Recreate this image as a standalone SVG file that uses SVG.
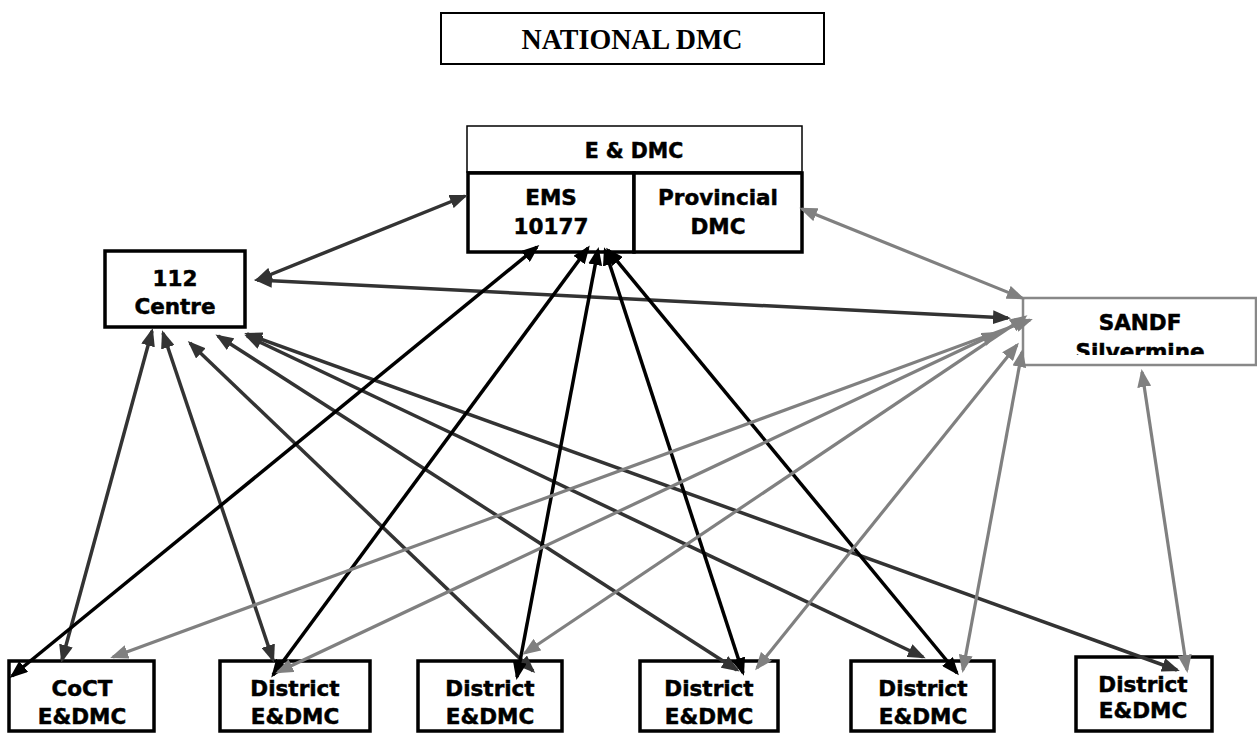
<svg xmlns="http://www.w3.org/2000/svg" width="1257" height="733" viewBox="0 0 1257 733">
<style>
.box{fill:#fff;stroke:#000;stroke-width:3.5}
.thin{fill:#fff;stroke:#000;stroke-width:1.5}
.gbox{fill:#fff;stroke:#888;stroke-width:2.5}
.t{font-family:"DejaVu Sans","Verdana",sans-serif;font-weight:bold;font-size:21.5px;fill:#000;stroke:#000;stroke-width:0.5;text-anchor:middle}
.nat{font-family:"Liberation Serif","Times New Roman",serif;font-weight:bold;font-size:28px;fill:#000;text-anchor:middle}
.k{stroke:#000;stroke-width:3.5;fill:none;marker-start:url(#ak);marker-end:url(#ak)}
.d{stroke:#333;stroke-width:3.5;fill:none;marker-start:url(#ad);marker-end:url(#ad)}
.g{stroke:#808080;stroke-width:3.2;fill:none;marker-start:url(#ag);marker-end:url(#ag)}
</style>
<defs>
<marker id="ak" markerUnits="userSpaceOnUse" markerWidth="18" markerHeight="14" viewBox="0 0 18 14" refX="15" refY="7" orient="auto-start-reverse"><path d="M0,0 L18,7 L0,14 z" fill="#000"/></marker>
<marker id="ad" markerUnits="userSpaceOnUse" markerWidth="18" markerHeight="14" viewBox="0 0 18 14" refX="15" refY="7" orient="auto-start-reverse"><path d="M0,0 L18,7 L0,14 z" fill="#333"/></marker>
<marker id="ag" markerUnits="userSpaceOnUse" markerWidth="18" markerHeight="14" viewBox="0 0 18 14" refX="15" refY="7" orient="auto-start-reverse"><path d="M0,0 L18,7 L0,14 z" fill="#808080"/></marker>
<clipPath id="sclip"><rect x="1024" y="299" width="233" height="56"/></clipPath>
</defs>

<g id="national">
<rect x="441" y="13" width="383" height="51" fill="#fff" stroke="#000" stroke-width="2"/>
<text class="nat" transform="translate(632,49) scale(1,1.08)">NATIONAL DMC</text>
</g>

<g id="edmc">
<rect class="thin" x="467" y="126" width="335" height="46"/>
<text class="t" x="634" y="158" style="font-size:20.5px">E &amp; DMC</text>
</g>

<g id="ems">
<rect class="box" x="468" y="173" width="166" height="79"/>
<text class="t" x="551" y="205">EMS</text>
<text class="t" x="551" y="234">10177</text>
</g>

<g id="provincial">
<rect class="box" x="634" y="173" width="168" height="79"/>
<text class="t" x="718" y="205">Provincial</text>
<text class="t" x="718" y="234">DMC</text>
</g>

<g id="centre112">
<rect class="box" x="105" y="251" width="140" height="76"/>
<text class="t" x="175" y="286">112</text>
<text class="t" x="175" y="314">Centre</text>
</g>

<g id="sandf">
<rect class="gbox" x="1023" y="298" width="233" height="67"/>
<g clip-path="url(#sclip)">
<text class="t" x="1140" y="330">SANDF</text>
<text class="t" x="1140" y="359">Silvermine</text>
</g>
</g>

<g id="coct">
<rect class="box" x="9" y="661" width="145" height="70"/>
<text class="t" x="82" y="696">CoCT</text>
<text class="t" x="82" y="724">E&amp;DMC</text>
</g>
<g id="district1">
<rect class="box" x="220" y="661" width="150" height="70"/>
<text class="t" x="295" y="696">District</text>
<text class="t" x="295" y="724">E&amp;DMC</text>
</g>
<g id="district2">
<rect class="box" x="418" y="661" width="144" height="70"/>
<text class="t" x="490" y="696">District</text>
<text class="t" x="490" y="724">E&amp;DMC</text>
</g>
<g id="district3">
<rect class="box" x="640" y="661" width="138" height="70"/>
<text class="t" x="709" y="696">District</text>
<text class="t" x="709" y="724">E&amp;DMC</text>
</g>
<g id="district4">
<rect class="box" x="851" y="661" width="143" height="70"/>
<text class="t" x="923" y="696">District</text>
<text class="t" x="923" y="724">E&amp;DMC</text>
</g>
<g id="district5">
<rect class="box" x="1076" y="657" width="136" height="74"/>
<text class="t" x="1143" y="692">District</text>
<text class="t" x="1143" y="718">E&amp;DMC</text>
</g>

<g id="connectors">
<line class="d" x1="257" y1="280" x2="465" y2="196"/>
<line class="d" x1="257" y1="280" x2="1008" y2="318"/>
<line class="d" x1="152" y1="331" x2="62" y2="660"/>
<line class="d" x1="163" y1="333" x2="273" y2="660"/>
<line class="d" x1="190" y1="343" x2="533" y2="671"/>
<line class="d" x1="218" y1="336" x2="737" y2="670"/>
<line class="d" x1="247" y1="336" x2="923" y2="657"/>
<line class="d" x1="247" y1="334" x2="1177" y2="670"/>

<line class="k" x1="537" y1="247" x2="12" y2="676"/>
<line class="k" x1="588" y1="248" x2="273" y2="675"/>
<line class="k" x1="598" y1="250" x2="517" y2="677"/>
<line class="k" x1="605" y1="250" x2="743" y2="673"/>
<line class="k" x1="608" y1="250" x2="957" y2="673"/>

<line class="g" x1="802" y1="209" x2="1022" y2="298"/>
<line class="g" x1="113" y1="657" x2="1030" y2="320"/>
<line class="g" x1="278" y1="672" x2="997" y2="333"/>
<line class="g" x1="525" y1="653" x2="1025" y2="317"/>
<line class="g" x1="757" y1="668" x2="1017" y2="345"/>
<line class="g" x1="963" y1="670" x2="1022" y2="352"/>
<line class="g" x1="1187" y1="670" x2="1142" y2="372"/>
</g>
</svg>
